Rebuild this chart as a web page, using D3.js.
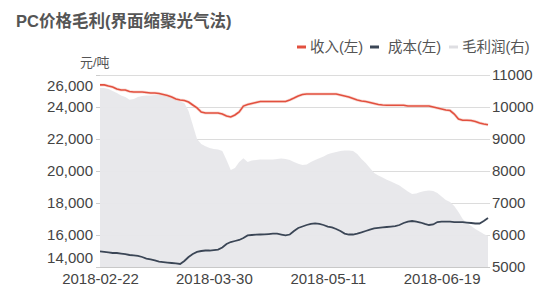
<!DOCTYPE html>
<html><head><meta charset="utf-8">
<script src="https://cdn.jsdelivr.net/npm/d3@7"></script>
<style>
html,body{margin:0;padding:0;background:#fff;}
svg{display:block;font-family:"Liberation Sans","Noto Sans CJK SC",Arial,sans-serif;}
</style></head>
<body><svg id="c" width="556" height="307"></svg>
<script>
const title = "PC价格毛利(界面缩聚光气法)";
const unitLabel = "元/吨";
const seriesNames = ["收入(左)", "成本(左)", "毛利润(右)"];
const xTickLabels = ["2018-02-22", "2018-03-30", "2018-05-11", "2018-06-19"];
const xTickIndex = [0, 27, 54, 81];
const leftTicks = [14000, 16000, 18000, 20000, 22000, 24000, 26000];
const rightTicks = [5000, 6000, 7000, 8000, 9000, 10000, 11000];

const revenue = [25380,25380,25310,25250,25125,25060,25060,24970,24940,24940,
24940,24910,24875,24875,24840,24780,24720,24625,24500,24440,
24410,24310,24125,23940,23690,23625,23625,23625,23625,23560,
23440,23375,23500,23690,24060,24160,24220,24280,24340,24340,
24340,24340,24340,24340,24340,24440,24560,24690,24780,24810,
24810,24810,24810,24810,24810,24810,24810,24750,24690,24625,
24530,24440,24375,24340,24280,24220,24160,24125,24110,24110,
24110,24110,24110,24060,24060,24060,24060,24060,24060,24000,
23940,23875,23810,23780,23560,23250,23170,23170,23160,23090,
23000,22940,22890];
const cost = [14970,14940,14910,14875,14875,14840,14810,14750,14720,14690,
14625,14530,14470,14410,14340,14310,14280,14250,14220,14190,
14375,14625,14810,14940,15000,15030,15030,15060,15090,15220,
15440,15560,15625,15690,15810,15970,16000,16020,16030,16040,
16060,16080,16080,16030,15980,16030,16250,16440,16530,16625,
16690,16720,16690,16625,16530,16470,16375,16250,16090,16030,
16030,16090,16160,16250,16340,16410,16440,16470,16500,16530,
16560,16625,16750,16840,16875,16840,16780,16690,16625,16660,
16810,16840,16840,16830,16810,16810,16810,16780,16750,16720,
16720,16875,17060];
const profit = [10590,10590,10560,10500,10440,10360,10310,10230,10250,10310,
10340,10360,10360,10375,10375,10360,10330,10270,10220,10170,
10125,9875,9440,9000,8840,8770,8720,8690,8670,8625,
8340,8030,8090,8280,8400,8280,8330,8340,8360,8360,
8360,8360,8375,8390,8375,8340,8280,8230,8190,8200,
8280,8340,8400,8450,8520,8560,8590,8625,8640,8640,
8625,8530,8375,8250,8090,7940,7860,7800,7730,7670,
7610,7550,7450,7360,7280,7300,7340,7375,7390,7375,
7310,7200,7090,7030,6910,6720,6500,6375,6280,6190,
6110,6030,5970];

const colors = ["#e2503f", "#3b4656", "#e7e7ea"];
const svg = d3.select("#c");
const L = 100, R = 488, T = 75, B = 267;

const x = d3.scaleLinear().domain([0, revenue.length - 1]).range([L, R]);
const yL = d3.scaleLinear().domain([14000, 26000]).range([B, T]);
const yR = d3.scaleLinear().domain([5000, 11000]).range([B, T]);

// title
svg.append("text").attr("x", 16).attr("y", 27).text(title)
  .attr("font-size", 16.5).attr("font-weight", "bold").attr("fill", "#555");
svg.append("text").attr("x", 80).attr("y", 67).text(unitLabel)
  .attr("font-size", 13).attr("fill", "#555");

// gridlines
svg.append("g").selectAll("line").data(rightTicks).join("line")
  .attr("x1", L).attr("x2", 490)
  .attr("y1", d => yR(d) + 0.5).attr("y2", d => yR(d) + 0.5)
  .attr("stroke", d => d === 5000 ? "#c8c8c8" : "#dcdcdc").attr("stroke-width", 1);

// area
svg.append("path").datum(profit)
  .attr("d", d3.area().x((d, i) => x(i)).y0(B).y1(d => yR(d)))
  .attr("fill", colors[2]).attr("fill-opacity", 0.95);

// redraw gridlines faintly above area? (area covers them in reference)
// lines
const lineL = d3.line().x((d, i) => x(i)).y(d => yL(d));
svg.append("path").datum(revenue).attr("d", lineL)
  .attr("fill", "none").attr("stroke", "#f3b9ae").attr("stroke-width", 3).attr("stroke-opacity", 0.5);
svg.append("path").datum(revenue).attr("d", lineL)
  .attr("fill", "none").attr("stroke", colors[0]).attr("stroke-width", 1.6);
svg.append("path").datum(cost).attr("d", lineL)
  .attr("fill", "none").attr("stroke", colors[1]).attr("stroke-width", 1.8);

// left axis
const gL = svg.append("g").attr("transform", `translate(${L},0)`)
  .call(d3.axisLeft(yL).tickValues(leftTicks).tickSize(4).tickPadding(3)
    .tickFormat(d3.format(",")));
gL.select(".domain").remove();
gL.selectAll("line").attr("stroke", "#ccc");
gL.selectAll("text").attr("font-size", 15).attr("fill", "#444")
  .attr("font-family", "Liberation Sans, Arial, sans-serif")
  .attr("dy", d => d === 26000 ? "1.0em" : d === 14000 ? "-0.3em" : "0.32em");

// right axis
const gR = svg.append("g").attr("transform", `translate(490,0)`)
  .call(d3.axisRight(yR).tickValues(rightTicks).tickSize(0).tickPadding(2)
    .tickFormat(d3.format("d")));
gR.select(".domain").remove();
gR.selectAll("text").attr("font-size", 15).attr("fill", "#444")
  .attr("font-family", "Liberation Sans, Arial, sans-serif");

// x axis
const gX = svg.append("g").attr("transform", `translate(0,${B})`)
  .call(d3.axisBottom(x).tickValues(xTickIndex).tickSize(0).tickPadding(6)
    .tickFormat((d, i) => xTickLabels[i]));
gX.select(".domain").remove();
gX.selectAll("text").attr("font-size", 15).attr("fill", "#444")
  .attr("font-family", "Liberation Sans, Arial, sans-serif");

// legend
const legendX = [297, 370, 449];
const leg = svg.append("g");
seriesNames.forEach((n, i) => {
  leg.append("line").attr("x1", legendX[i]).attr("x2", legendX[i] + 9)
    .attr("y1", 47).attr("y2", 47)
    .attr("stroke", i === 2 ? "#dedee2" : colors[i]).attr("stroke-width", 3);
  leg.append("text").attr("x", legendX[i] + 13 + (i === 1 ? 5 : 0)).attr("y", 52).text(n)
    .attr("font-size", 14.5).attr("fill", "#555");
});
</script></body></html>
